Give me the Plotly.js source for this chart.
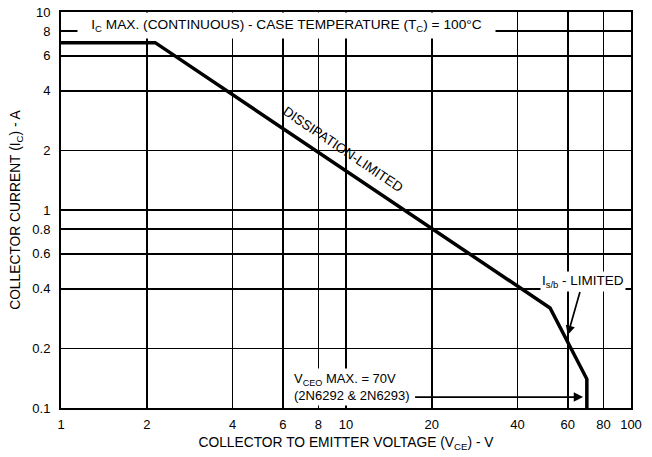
<!DOCTYPE html>
<html>
<head>
<meta charset="utf-8">
<script src="https://cdn.plot.ly/plotly-3.0.1.min.js"></script>
<style>html,body{margin:0;padding:0;background:#fff;}#chart{width:652px;height:457px;}</style>
</head>
<body>
<div id="chart"></div>
<script>
// Safe operating area boundary
const vce = [1, 2.14, 52, 70, 70];
const ic = [7, 7, 0.32, 0.14, 0.1];

const xTicks = [1, 2, 4, 6, 8, 10, 20, 40, 60, 80, 100];
const xTickText = ['1', '2', '4', '6', '8', '10', '20', '40', '60', '80', '100'];
const yTicks = [0.1, 0.2, 0.4, 0.6, 0.8, 1, 2, 4, 6, 8, 10];
const yTickText = ['0.1', '0.2', '0.4', '0.6', '0.8', '1', '2', '4', '6', '8', '10'];

// annotation anchor values
const vceoMax = 70;
const isbTip = [60, 0.234];
const vceoArrowY = 0.1136;
const dissLabelPos = [9.76, 2.01];

const FONT = 'Liberation Sans, Arial, Helvetica, sans-serif';

const trace = {
  x: vce, y: ic, type: 'scatter', mode: 'lines',
  line: {color: '#000', width: 3.5},
  hoverinfo: 'skip', showlegend: false
};

const axisCommon = {
  type: 'log', showgrid: true, gridcolor: '#000', gridwidth: 1.6,
  showline: true, linecolor: '#000', linewidth: 2, mirror: true,
  zeroline: false, tickmode: 'array', ticks: 'outside', tickcolor: 'rgba(0,0,0,0)',
  tickfont: {family: FONT, size: 13, color: '#000'}
};

const layout = {
  width: 652, height: 457,
  margin: {l: 61, r: 21, t: 11.5, b: 49, pad: 0},
  paper_bgcolor: '#fff', plot_bgcolor: '#fff',
  font: {family: FONT, color: '#000'},
  xaxis: Object.assign({}, axisCommon, {
    range: [0, 2], tickvals: xTicks, ticktext: xTickText, ticklen: 3,
    title: {text: 'COLLECTOR TO EMITTER VOLTAGE (V<sub>CE</sub>) - V', font: {family: FONT, size: 13.8, color: '#000'}, standoff: 7}
  }),
  yaxis: Object.assign({}, axisCommon, {
    range: [-1, 1], tickvals: yTicks, ticktext: yTickText, ticklen: 6,
    title: {text: 'COLLECTOR CURRENT (I<sub>C</sub>) - A', font: {family: FONT, size: 13.8, color: '#000'}, standoff: 8}
  }),
  annotations: [
    {
      xref: 'paper', yref: 'paper', x: 0.396, y: 0.965, xanchor: 'center', yanchor: 'middle',
      text: 'I<sub>C</sub> MAX. (CONTINUOUS) - CASE TEMPERATURE (T<sub>C</sub>) = 100°C',
      showarrow: false, bgcolor: '#fff', width: 417, height: 25, borderpad: 0,
      font: {family: FONT, size: 13.7, color: '#000'}
    },
    {
      xref: 'x', yref: 'y', x: Math.log10(dissLabelPos[0]), y: Math.log10(dissLabelPos[1]),
      text: 'DISSIPATION-LIMITED', textangle: 34, showarrow: false,
      font: {family: FONT, size: 13.5, color: '#000'}
    },
    {
      xref: 'x', yref: 'y', x: Math.log10(isbTip[0]), y: Math.log10(isbTip[1]),
      text: 'I<sub>s/b</sub> - LIMITED', showarrow: true, ax: 15, ay: -53,
      arrowhead: 2, arrowsize: 1.1, arrowwidth: 1.7, arrowcolor: '#000',
      bgcolor: '#fff', borderpad: 1,
      font: {family: FONT, size: 13.5, color: '#000'}
    },
    {
      xref: 'paper', yref: 'paper', x: 0.4035, y: 0.052, xanchor: 'left', yanchor: 'middle', align: 'left',
      text: 'V<sub>CEO</sub> MAX. = 70V<br>(2N6292 &amp; 2N6293)', showarrow: false,
      bgcolor: '#fff', borderpad: 2,
      font: {family: FONT, size: 13, color: '#000'}
    },
    {
      xref: 'x', yref: 'y', x: Math.log10(vceoMax * 0.97), y: Math.log10(vceoArrowY),
      text: ' ', showarrow: true, ax: -170, ay: 0,
      arrowhead: 2, arrowsize: 1.1, arrowwidth: 1.7, arrowcolor: '#000',
      font: {family: FONT, size: 2, color: '#000'}
    }
  ]
};

Plotly.newPlot('chart', [trace], layout, {displayModeBar: false, staticPlot: true});
</script>
</body>
</html>
